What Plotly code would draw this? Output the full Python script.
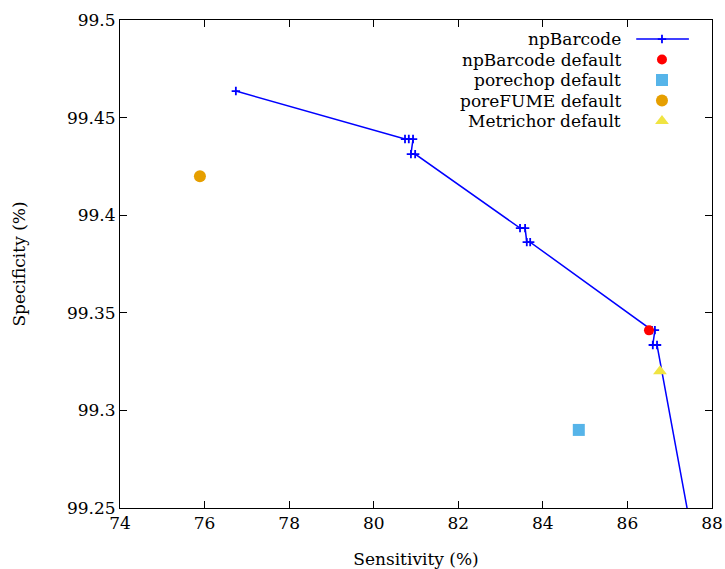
import plotly.graph_objects as go

# npBarcode sweep (sensitivity %, specificity %)
np_sens = [76.74, 80.74, 80.83, 80.93, 80.88, 80.98, 83.46, 83.58, 83.62, 83.70,
           86.58, 86.65, 86.60, 86.70, 87.75]
np_spec = [99.4636, 99.4390, 99.4390, 99.4390, 99.4313, 99.4313, 99.3934, 99.3934,
           99.3862, 99.3862, 99.3411, 99.3411, 99.3335, 99.3335, 99.2100]

# single default points
default_names = ['npBarcode default', 'porechop default', 'poreFUME default', 'Metrichor default']
default_sens = [86.51, 84.85, 75.89, 86.77]
default_spec = [99.341, 99.29, 99.42, 99.32]
default_colors = ['#ff0000', '#56b4e9', '#e69f00', '#f0e442']
default_symbols = ['circle', 'square', 'circle', 'triangle-up']
default_sizes = [10, 12, 12, 12]

font = 'DejaVu Serif'
fs = 17

fig = go.Figure()
fig.add_trace(go.Scatter(
    x=np_sens, y=np_spec, mode='lines+markers', name='npBarcode',
    line=dict(color='#0000ff', width=1.5),
    marker=dict(symbol='cross-thin', size=6, line=dict(color='#0000ff', width=1.8)),
    showlegend=False,
))
for n, xs, ys, c, s, sz in zip(default_names, default_sens, default_spec,
                               default_colors, default_symbols, default_sizes):
    fig.add_trace(go.Scatter(
        x=[xs], y=[ys], mode='markers', name=n,
        marker=dict(color=c, symbol=s, size=sz, opacity=1, line=dict(width=0)),
        showlegend=False,
    ))

# hand-made gnuplot style key (text right, sample left)
key_rows = [0.961, 0.919, 0.877, 0.835, 0.793]
key_labels = ['npBarcode'] + default_names
for yk, lab in zip(key_rows, key_labels):
    fig.add_annotation(x=0.8497, y=yk, xref='paper', yref='paper', text=lab,
                       showarrow=False, xanchor='right', yanchor='middle',
                       font=dict(family=font, size=fs, color='black'))
fig.add_trace(go.Scatter(
    x=[0.872, 0.9155, 0.961], y=[key_rows[0]] * 3, xaxis='x2', yaxis='y2',
    mode='lines', line=dict(color='#0000ff', width=1.5), showlegend=False, hoverinfo='skip'))
fig.add_trace(go.Scatter(
    x=[0.9155], y=[key_rows[0]], xaxis='x2', yaxis='y2', mode='markers',
    marker=dict(symbol='cross-thin', size=6, line=dict(color='#0000ff', width=1.8)),
    showlegend=False, hoverinfo='skip'))
fig.add_trace(go.Scatter(
    x=[0.9155] * 4, y=key_rows[1:], xaxis='x2', yaxis='y2', mode='markers',
    marker=dict(color=default_colors, symbol=default_symbols, size=default_sizes,
                opacity=1, line=dict(width=0)),
    showlegend=False, hoverinfo='skip'))

axis_style = dict(
    showgrid=False, zeroline=False, showline=True, linecolor='black', linewidth=1,
    mirror='ticks', ticks='inside', ticklen=7, tickcolor='black', tickwidth=1,
    tickfont=dict(family=font, size=fs, color='black'),
)
fig.update_layout(
    width=725, height=569,
    margin=dict(l=120, r=13, t=20, b=61, autoexpand=False),
    plot_bgcolor='white', paper_bgcolor='white',
    font=dict(family=font, size=fs, color='black'),
    xaxis=dict(range=[74, 88], dtick=2, title=dict(text='Sensitivity (%)', standoff=20,
               font=dict(family=font, size=fs)), **axis_style),
    yaxis=dict(range=[99.25, 99.5], dtick=0.05, title=dict(text='Specificity (%)', standoff=36,
               font=dict(family=font, size=fs)), **axis_style),
    xaxis2=dict(range=[0, 1], overlaying='x', visible=False, fixedrange=True),
    yaxis2=dict(range=[0, 1], overlaying='y', visible=False, fixedrange=True),
    showlegend=False,
)
# drop the default 8px page margin so the figure fills the window exactly
fig.write_html('out.html', config={'displayModeBar': False},
               post_script="document.body.style.margin='0';document.body.style.overflow='hidden';")
